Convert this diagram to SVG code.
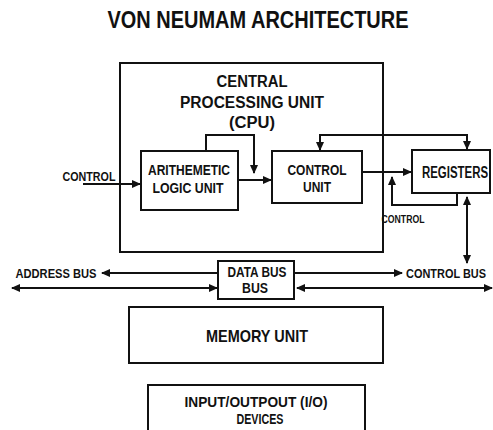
<svg xmlns="http://www.w3.org/2000/svg" width="493" height="430" viewBox="0 0 493 430">
<style>
text{font-family:"Liberation Sans",Arial,sans-serif;font-weight:bold;fill:#111;text-anchor:middle}
.box{fill:none;stroke:#111;stroke-width:2}
.ln{fill:none;stroke:#111;stroke-width:2}
.t17{font-size:17px}
.t16{font-size:16px}
.t15{font-size:15px}
.t14{font-size:14px}
.t13{font-size:13px}
.t10{font-size:10px}
</style>
<defs>
<marker id="arr" markerUnits="userSpaceOnUse" markerWidth="9" markerHeight="8" refX="8" refY="4" orient="auto-start-reverse" viewBox="0 0 9 8">
<path d="M0,0 L9,4 L0,8 z" fill="#111"/>
</marker>
</defs>
<rect width="493" height="430" fill="#fff"/>
<text x="258" y="28" style="font-size:23px" textLength="301" lengthAdjust="spacingAndGlyphs">VON NEUMAM ARCHITECTURE</text>

<g id="cpu">
<rect class="box" x="120" y="63" width="263" height="189"/>
<text class="t16" x="252" y="87" textLength="71" lengthAdjust="spacingAndGlyphs">CENTRAL</text>
<text class="t16" x="252" y="108" textLength="144" lengthAdjust="spacingAndGlyphs">PROCESSING UNIT</text>
<text class="t16" x="252" y="128" textLength="46" lengthAdjust="spacingAndGlyphs">(CPU)</text>
</g>
<g id="alu">
<rect class="box" x="141" y="151" width="97" height="59"/>
<text class="t14" x="189" y="175" textLength="82" lengthAdjust="spacingAndGlyphs">ARITHEMETIC</text>
<text class="t14" x="188" y="193" textLength="71" lengthAdjust="spacingAndGlyphs">LOGIC UNIT</text>
</g>
<g id="control-unit">
<rect class="box" x="272" y="151" width="90" height="52"/>
<text class="t15" x="317" y="175" textLength="59" lengthAdjust="spacingAndGlyphs">CONTROL</text>
<text class="t15" x="317" y="192" textLength="28" lengthAdjust="spacingAndGlyphs">UNIT</text>
</g>
<g id="registers">
<rect class="box" x="412" y="150" width="78" height="43"/>
<text class="t16" x="455" y="178" textLength="66" lengthAdjust="spacingAndGlyphs">REGISTERS</text>
</g>
<g id="data-bus">
<rect class="box" x="218" y="261" width="76" height="38"/>
<text class="t14" x="257" y="277" textLength="59" lengthAdjust="spacingAndGlyphs">DATA BUS</text>
<text class="t14" x="255" y="293" textLength="26" lengthAdjust="spacingAndGlyphs">BUS</text>
</g>
<g id="memory">
<rect class="box" x="129" y="307" width="254" height="56"/>
<text class="t17" x="257" y="342" textLength="102" lengthAdjust="spacingAndGlyphs">MEMORY UNIT</text>
</g>
<g id="io">
<rect class="box" x="148" y="385" width="217" height="50"/>
<text class="t14" x="256" y="407" textLength="143" lengthAdjust="spacingAndGlyphs">INPUT/OUTPOUT (I/O)</text>
<text class="t14" x="260" y="424" textLength="47" lengthAdjust="spacingAndGlyphs">DEVICES</text>
</g>
<g id="labels">
<text class="t13" x="89" y="181" textLength="53" lengthAdjust="spacingAndGlyphs">CONTROL</text>
<text class="t10" x="403" y="223" textLength="43" lengthAdjust="spacingAndGlyphs">CONTROL</text>
<text class="t13" x="56" y="278" textLength="81" lengthAdjust="spacingAndGlyphs">ADDRESS BUS</text>
<text class="t13" x="446" y="278" textLength="80" lengthAdjust="spacingAndGlyphs">CONTROL BUS</text>
</g>
<g id="connectors">
<path class="ln" d="M83,184 H140" marker-end="url(#arr)"/>
<path class="ln" d="M206,151 V135 H254 V173" marker-end="url(#arr)"/>
<path class="ln" d="M238,180 H271" marker-end="url(#arr)"/>
<path class="ln" d="M320,150 V135 H467 V149" marker-start="url(#arr)" marker-end="url(#arr)"/>
<path class="ln" d="M362,172 H411" marker-end="url(#arr)"/>
<path class="ln" d="M457,193 V205 H392 V177" marker-end="url(#arr)"/>
<path class="ln" d="M467,197 V263" marker-start="url(#arr)" marker-end="url(#arr)"/>
<path class="ln" d="M218,273 H102" marker-end="url(#arr)"/>
<path class="ln" d="M294,273 H402" marker-end="url(#arr)"/>
<path class="ln" d="M12,288 H217" marker-start="url(#arr)" marker-end="url(#arr)"/>
<path class="ln" d="M297,288 H492" marker-start="url(#arr)" marker-end="url(#arr)"/>
</g>
</svg>
